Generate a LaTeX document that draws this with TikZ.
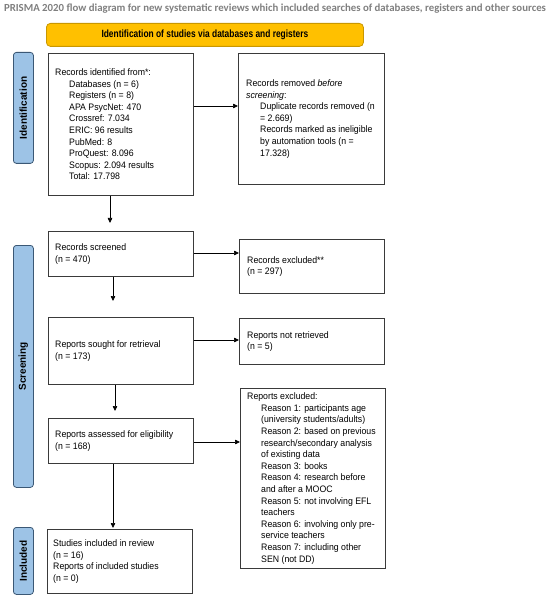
\documentclass[tikz,border=0pt]{standalone}
\usepackage{fontspec}
\setmainfont[FakeStretch=0.93]{Liberation Sans}
\newfontfamily\titlefont{Carlito}
\newfontfamily\hdrfont[FakeStretch=0.8]{Liberation Sans}
\newfontfamily\sidefont{Liberation Sans}
\usetikzlibrary{arrows.meta,calc}
\definecolor{hdryellow}{HTML}{FFC000}
\definecolor{hdrborder}{HTML}{C99700}
\definecolor{sideblue}{HTML}{9DC3E6}
\definecolor{sideborder}{HTML}{3B5875}
\definecolor{titlegray}{HTML}{7F7F7F}
\definecolor{boxline}{HTML}{3A3A3A}
\newcommand\indr{\hspace*{14pt}}
\begin{document}
\begin{tikzpicture}[x=1pt,y=-1pt,
  box/.style={draw=boxline, line width=0.75pt, fill=white, anchor=north west, inner sep=0pt},
  txt/.style={anchor=west, align=left, inner sep=0pt, font=\fontsize{9.4}{11.6}\selectfont},
  side/.style={draw=sideborder, line width=0.8pt, fill=sideblue, rounded corners=3pt, anchor=north west, inner sep=0pt, minimum width=20pt},
  sidetxt/.style={rotate=90, inner sep=0pt, font=\sidefont\bfseries\fontsize{10}{12}\selectfont},
  arr/.style={draw=black, line width=0.7pt, -{Triangle[length=5pt,width=4.5pt]}}]
\useasboundingbox (0,0) rectangle (550,601);
% title
\node[font=\titlefont\bfseries\fontsize{10.8}{12}\selectfont, text=titlegray, inner sep=0pt] (title) at (275,8.5)
  {PRISMA 2020 flow diagram for new systematic reviews which included searches of databases, registers and other sources};
% header
\node[draw=hdrborder, line width=0.8pt, fill=hdryellow, rounded corners=4pt, anchor=north west, inner sep=0pt,
  minimum width=317pt, minimum height=23pt, font=\hdrfont\bfseries\fontsize{10.5}{12}\selectfont] (hdr) at (46,23)
  {Identification of studies via databases and registers};
% side labels
\node[side, minimum height=111pt] (lid) at (13,52) {};
\node[sidetxt] (lidT) at (lid.center) {Identification};
\node[side, minimum height=242pt] (lsc) at (13,245) {};
\node[sidetxt] (lscT) at (lsc.center) {Screening};
\node[side, minimum height=67pt] (lin) at (13,527) {};
\node[sidetxt] (linT) at (lin.center) {Included};
% boxes
\node[box, minimum width=145pt, minimum height=142pt] (idf) at (48,53) {};
\node[txt] (idfT) at ([xshift=7pt]idf.west) {Records identified from*:\\
\indr Databases (n = 6)\\
\indr Registers (n = 8)\\
\indr APA PsycNet: 470\\
\indr Crossref: 7.034\\
\indr ERIC: 96 results\\
\indr PubMed: 8\\
\indr ProQuest: 8.096\\
\indr Scopus: 2.094 results\\
\indr Total: 17.798};
\node[box, minimum width=146pt, minimum height=131pt] (rem) at (238,53) {};
\node[txt] (remT) at ([xshift=8pt]rem.west) {Records removed \textit{before}\\
\textit{screening}:\\
\indr Duplicate records removed (n\\
\indr = 2.669)\\
\indr Records marked as ineligible\\
\indr by automation tools (n =\\
\indr 17.328)};
\node[box, minimum width=145pt, minimum height=45pt] (scr) at (48,231) {};
\node[txt] (scrT) at ([xshift=7pt]scr.west) {Records screened\\(n = 470)};
\node[box, minimum width=145pt, minimum height=54pt] (exc) at (239,239) {};
\node[txt] (excT) at ([xshift=8pt]exc.west) {Records excluded**\\(n = 297)};
\node[box, minimum width=145pt, minimum height=67pt] (sou) at (48,317) {};
\node[txt] (souT) at ([xshift=7pt]sou.west) {Reports sought for retrieval\\(n = 173)};
\node[box, minimum width=145pt, minimum height=46pt] (nrt) at (239,318) {};
\node[txt] (nrtT) at ([xshift=8pt]nrt.west) {Reports not retrieved\\(n = 5)};
\node[box, minimum width=145pt, minimum height=45pt] (ass) at (48,418) {};
\node[txt] (assT) at ([xshift=7pt]ass.west) {Reports assessed for eligibility\\(n = 168)};
\node[box, minimum width=145pt, minimum height=180pt] (rex) at (240,388) {};
\node[txt] (rexT) at ([xshift=7pt]rex.west) {Reports excluded:\\
\indr Reason 1: participants age\\
\indr (university students/adults)\\
\indr Reason 2: based on previous\\
\indr research/secondary analysis\\
\indr of existing data\\
\indr Reason 3: books\\
\indr Reason 4: research before\\
\indr and after a MOOC\\
\indr Reason 5: not involving EFL\\
\indr teachers\\
\indr Reason 6: involving only pre-\\
\indr service teachers\\
\indr Reason 7: including other\\
\indr SEN (not DD)};
\node[box, minimum width=145pt, minimum height=64pt] (inc) at (47,529) {};
\node[txt] (incT) at ([xshift=6pt]inc.west) {Studies included in review\\
(n = 16)\\
Reports of included studies\\
(n = 0)};
% arrows
\draw[arr] (idf.east |- 0,106) -- (rem.west |- 0,106);
\draw[arr] (scr.east |- 0,253) -- (exc.west |- 0,253);
\draw[arr] (sou.east |- 0,340) -- (nrt.west |- 0,340);
\draw[arr] (ass.east |- 0,442) -- (rex.west |- 0,442);
\draw[arr, shorten >=8pt] (idf.south -| 110,0) -- (scr.north -| 110,0);
\draw[arr, shorten >=16pt] (scr.south -| 113,0) -- (sou.north -| 113,0);
\draw[arr, shorten >=7pt] (sou.south -| 115,0) -- (ass.north -| 115,0);
\draw[arr, shorten >=1pt] (ass.south -| 113,0) -- (inc.north -| 113,0);
\end{tikzpicture}
\end{document}
